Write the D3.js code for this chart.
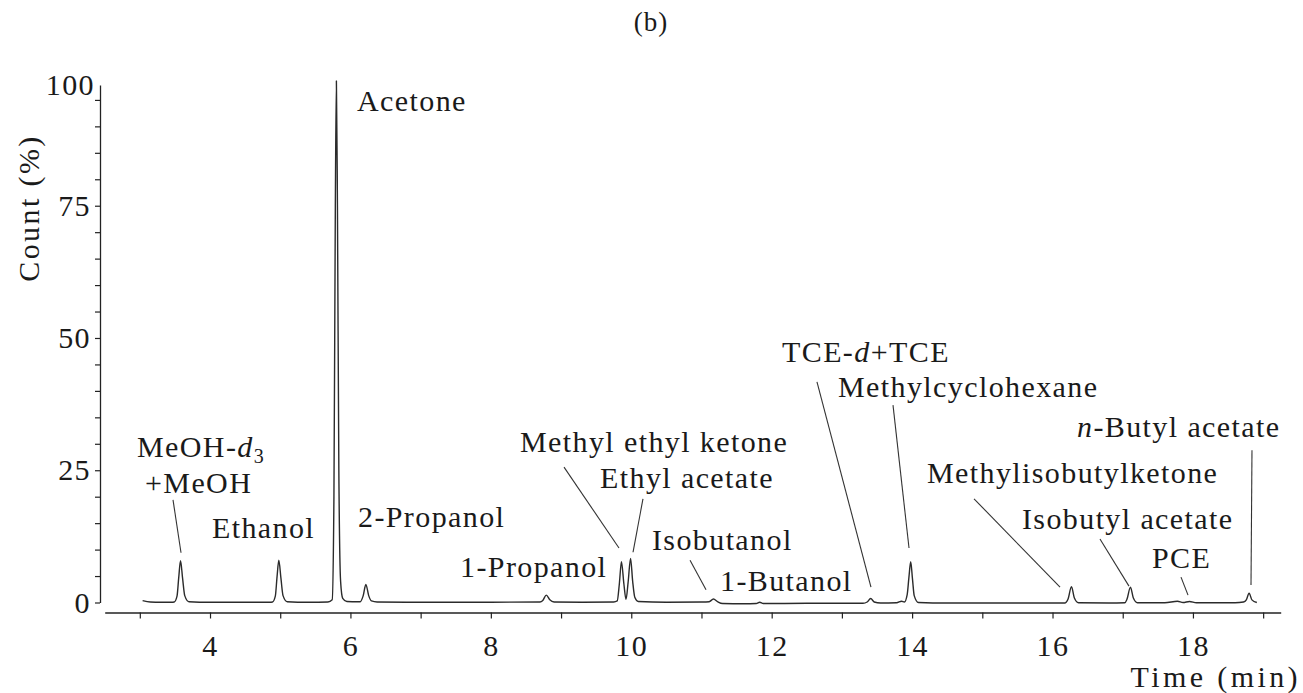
<!DOCTYPE html>
<html>
<head>
<meta charset="utf-8">
<script src="https://cdn.jsdelivr.net/npm/d3@7"></script>
<style>
body { margin: 0; background: #fff; }
svg text { font-family: "Liberation Serif", "DejaVu Serif", "Noto Serif", serif; fill: #1a1a1a; }
</style>
</head>
<body>
<svg id="chart" width="1303" height="693"></svg>
<script>
// cromatograma: tempo (min) e contagem (%)
var tempo = [3.04, 3.15, 3.30, 3.45,
  3.49, 3.53, 3.555, 3.58, 3.61, 3.64, 3.70,
  4.0, 4.5, 4.85,
  4.89, 4.93, 4.955, 4.98, 5.01, 5.04, 5.10,
  5.4, 5.68,
  5.74, 5.765, 5.785, 5.80, 5.815, 5.835, 5.86, 5.89, 5.95,
  6.10, 6.14, 6.18, 6.22, 6.26, 6.30, 6.38,
  7.0, 8.0, 8.70, 8.74, 8.79, 8.84, 8.90,
  9.3, 9.75, 9.80, 9.83, 9.86, 9.895, 9.925, 9.955, 9.99, 10.02, 10.05, 10.10,
  10.5, 11.0, 11.11, 11.17, 11.23, 11.30, 11.6,
  11.78, 11.83, 11.88, 12.5, 13.30,
  13.36, 13.41, 13.46, 13.55, 13.78, 13.85, 13.89,
  13.93, 13.955, 13.98, 14.005, 14.03, 14.09,
  14.5, 15.5, 16.18, 16.22, 16.27, 16.31, 16.37,
  16.8, 17.03, 17.06, 17.11, 17.15, 17.21,
  17.6, 17.78, 17.86, 17.95, 18.05, 18.6, 18.72,
  18.76, 18.80, 18.84, 18.91];
var contagem = [0.35, 0.1, 0.05, 0.05,
  0.1, 1.2, 4.8, 7.9, 4.5, 1.3, 0.15,
  0.05, 0.05, 0.05,
  0.1, 1.2, 4.9, 8.0, 4.6, 1.3, 0.15,
  0.05, 0.1,
  0.5, 20, 75, 98.6, 75, 25, 4, 0.8, 0.2,
  0.15, 0.15, 1.2, 3.4, 1.3, 0.3, 0.1,
  0.05, 0.05, 0.1, 0.4, 1.4, 0.5, 0.1,
  0.05, 0.1, 0.3, 3.5, 7.7, 3.5, 0.6, 3.8, 8.35, 4.0, 1.0, 0.2,
  0.05, 0.1, 0.15, 0.65, 0.15, -0.2, -0.25,
  -0.2, 0.05, -0.2, -0.15, -0.15,
  0.1, 0.75, 0.1, -0.1, -0.05, 0.25, 0.1,
  1.5, 4.8, 7.7, 4.5, 1.3, 0.0,
  -0.1, -0.1, -0.1, 0.6, 3.0, 0.9, -0.05,
  -0.1, -0.05, 0.6, 2.9, 0.9, -0.05,
  -0.05, 0.25, 0.0, 0.2, -0.05, -0.05, 0.1,
  0.5, 1.75, 0.5, 0.0];

// eixos
var xTicks = [3, 4, 5, 6, 7, 8, 9, 10, 11, 12, 13, 14, 15, 16, 17, 18, 19];
var xTickLabels = [4, 6, 8, 10, 12, 14, 16, 18];
var yTicks = [0, 5, 10, 15, 20, 25, 30, 35, 40, 45, 50, 55, 60, 65, 70, 75, 80, 85, 90, 95];
var yTickLabels = [0, 25, 50, 75];
var yTopLabel = "100";

// nomes dos picos e posição do texto (tempo, contagem)
var rotulos = ["Acetone", "MeOH-d3", "+MeOH", "Ethanol", "2-Propanol", "1-Propanol",
  "Methyl ethyl ketone", "Ethyl acetate", "Isobutanol", "1-Butanol", "TCE-d+TCE",
  "Methylcyclohexane", "n-Butyl acetate", "Methylisobutylketone", "Isobutyl acetate", "PCE"];
var rotuloT = [6.094, 2.960, 3.074, 4.028, 6.108, 7.561, 8.415, 9.555, 10.295, 11.264,
  12.147, 12.945, 16.349, 14.212, 15.565, 17.417];
var rotuloC = [92.9, 27.5, 20.7, 12.2, 14.3, 4.8, 28.45, 21.6, 9.9, 2.2,
  45.5, 38.8, 31.3, 22.6, 13.9, 6.5];

// linhas guia: início (t1,c1) -> fim no pico (t2,c2)
var guiaT1 = [3.473, 9.042, 10.167, 10.837, 12.645, 13.728, 18.841, 14.882, 16.676, 17.830];
var guiaC1 = [19.4, 25.6, 19.6, 8.0, 41.7, 37.3, 28.8, 19.6, 12.0, 4.8];
var guiaT2 = [3.587, 9.825, 10.025, 11.065, 13.414, 13.956, 18.827, 16.107, 17.089, 17.930];
var guiaC2 = [9.4, 10.3, 9.5, 2.4, 2.9, 10.3, 3.3, 2.9, 3.1, 1.4];

var svg = d3.select("#chart");

var x = d3.scaleLinear().domain([2.5, 19.25]).range([104.7, 1280.7]);
var y = d3.scaleLinear().domain([0, 97.8]).range([602.5, 85.1]);

var fonte = 30;
var espaco = "1.4px";
var familia = "'Liberation Serif', 'DejaVu Serif', 'Noto Serif', serif";

// eixo x
var eixoX = svg.append("g")
  .attr("transform", "translate(0,612.5)")
  .call(d3.axisBottom(x)
    .tickValues(xTicks)
    .tickSize(6)
    .tickSizeOuter(0)
    .tickPadding(16)
    .tickFormat(function (d) { return xTickLabels.indexOf(d) >= 0 ? d : ""; }));

// eixo y
var eixoY = svg.append("g")
  .attr("transform", "translate(100,0)")
  .call(d3.axisLeft(y)
    .tickValues(yTicks)
    .tickSize(5)
    .tickSizeOuter(0)
    .tickPadding(4)
    .tickFormat(function (d) { return yTickLabels.indexOf(d) >= 0 ? d : ""; }));

[eixoX, eixoY].forEach(function (g) {
  g.attr("font-family", familia);
  g.select(".domain").attr("stroke", "#222").attr("stroke-width", 1.3);
  g.selectAll(".tick line").attr("stroke", "#222").attr("stroke-width", 1.2);
  g.selectAll(".tick text")
    .attr("fill", "#1a1a1a")
    .style("font-family", familia)
    .style("font-size", fonte + "px")
    .style("letter-spacing", espaco);
});

// rótulo "100" no topo do eixo y
svg.append("text")
  .attr("x", 95)
  .attr("y", y(97.8))
  .attr("dy", "0.32em")
  .attr("text-anchor", "end")
  .style("font-family", familia)
  .style("font-size", fonte + "px")
  .style("letter-spacing", espaco)
  .text(yTopLabel);

// títulos
svg.append("text")
  .attr("x", 651)
  .attr("y", 31)
  .attr("text-anchor", "middle")
  .style("font-family", familia)
  .style("font-size", "27px")
  .style("letter-spacing", "1px")
  .text("(b)");

svg.append("text")
  .attr("x", 1301)
  .attr("y", 687)
  .attr("text-anchor", "end")
  .style("font-family", familia)
  .style("font-size", fonte + "px")
  .style("letter-spacing", "3.4px")
  .text("Time (min)");

svg.append("text")
  .attr("transform", "translate(39,208) rotate(-90)")
  .attr("text-anchor", "middle")
  .style("font-family", familia)
  .style("font-size", fonte + "px")
  .style("letter-spacing", "2.4px")
  .text("Count (%)");

// traço do cromatograma
var pontos = tempo.map(function (t, i) { return [t, contagem[i]]; });
var linha = d3.line()
  .x(function (d) { return x(d[0]); })
  .y(function (d) { return y(d[1]); })
  .curve(d3.curveMonotoneX);

svg.append("path")
  .datum(pontos)
  .attr("d", linha)
  .attr("fill", "none")
  .attr("stroke", "#2b2b2b")
  .attr("stroke-width", 1.4)
  .attr("stroke-linejoin", "round");

// linhas guia
svg.selectAll("line.guia")
  .data(d3.range(guiaT1.length))
  .enter()
  .append("line")
  .attr("class", "guia")
  .attr("x1", function (i) { return x(guiaT1[i]); })
  .attr("y1", function (i) { return y(guiaC1[i]); })
  .attr("x2", function (i) { return x(guiaT2[i]); })
  .attr("y2", function (i) { return y(guiaC2[i]); })
  .attr("stroke", "#333")
  .attr("stroke-width", 1.1);

// textos dos picos (itálico em d e n, subscrito em 3)
var textos = svg.selectAll("text.rotulo")
  .data(d3.range(rotulos.length))
  .enter()
  .append("text")
  .attr("class", "rotulo")
  .attr("x", function (i) { return x(rotuloT[i]); })
  .attr("y", function (i) { return y(rotuloC[i]); })
  .style("font-family", familia)
  .style("font-size", fonte + "px")
  .style("letter-spacing", espaco);

textos.each(function (i) {
  var t = d3.select(this);
  var nome = rotulos[i];
  if (nome === "MeOH-d3") {
    t.append("tspan").text("MeOH-");
    t.append("tspan").style("font-style", "italic").text("d");
    t.append("tspan").attr("dy", 6).style("font-size", "20px").text("3");
  } else if (nome === "TCE-d+TCE") {
    t.append("tspan").text("TCE-");
    t.append("tspan").style("font-style", "italic").text("d");
    t.append("tspan").text("+TCE");
  } else if (nome === "n-Butyl acetate") {
    t.append("tspan").style("font-style", "italic").text("n");
    t.append("tspan").text("-Butyl acetate");
  } else {
    t.text(nome);
  }
});
</script>
</body>
</html>
